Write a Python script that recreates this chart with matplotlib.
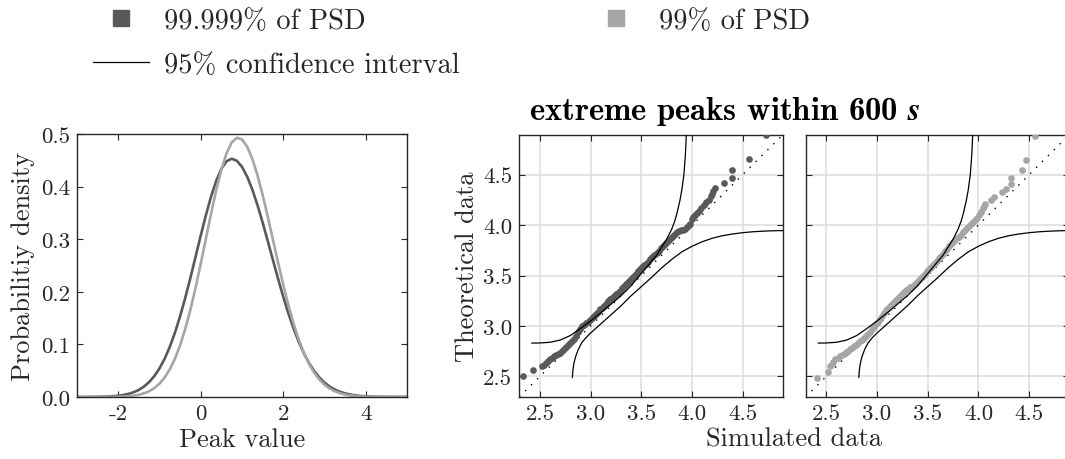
import matplotlib
matplotlib.use("Agg")
import matplotlib.pyplot as plt
from matplotlib.lines import Line2D
from matplotlib.ticker import FormatStrFormatter

plt.rcParams.update({
    "font.family": "cmr10",
    "mathtext.fontset": "cm",
    "axes.unicode_minus": False,
    "axes.formatter.use_mathtext": False,
})

# ---------------- data ----------------
pdf_x = [-3.0, -2.75, -2.5, -2.25, -2.125, -2.0, -1.875, -1.75, -1.625, -1.5, -1.375, -1.25,
         -1.125, -1.0, -0.875, -0.75, -0.625, -0.5, -0.375, -0.25, -0.125, 0.0, 0.125, 0.25,
         0.375, 0.5, 0.625, 0.75, 0.875, 1.0, 1.125, 1.25, 1.375, 1.5, 1.625, 1.75, 1.875,
         2.0, 2.125, 2.25, 2.375, 2.5, 2.625, 2.75, 2.875, 3.0, 3.125, 3.25, 3.375, 3.5,
         3.625, 3.75, 3.875, 4.0, 4.25, 4.5, 4.75, 5.0]
pdf_dark = [0.0000, 0.0001, 0.0003, 0.0009, 0.0015, 0.0024, 0.0039, 0.0060, 0.0091, 0.0136,
            0.0199, 0.0285, 0.0398, 0.0544, 0.0728, 0.0954, 0.1224, 0.1537, 0.1886, 0.2268,
            0.2668, 0.3070, 0.3457, 0.3810, 0.4110, 0.4338, 0.4481, 0.4530, 0.4491, 0.4376,
            0.4190, 0.3944, 0.3649, 0.3317, 0.2964, 0.2603, 0.2247, 0.1906, 0.1589, 0.1302,
            0.1049, 0.0830, 0.0646, 0.0494, 0.0371, 0.0274, 0.0199, 0.0142, 0.0100, 0.0069,
            0.0047, 0.0031, 0.0020, 0.0013, 0.0005, 0.0002, 0.0001, 0.0000]
pdf_light = [0.0000, 0.0000, 0.0000, 0.0001, 0.0002, 0.0005, 0.0009, 0.0015, 0.0026, 0.0043,
             0.0070, 0.0110, 0.0170, 0.0254, 0.0370, 0.0526, 0.0729, 0.0985, 0.1296, 0.1662,
             0.2078, 0.2534, 0.3009, 0.3485, 0.3931, 0.4323, 0.4633, 0.4840, 0.4928, 0.4896,
             0.4760, 0.4529, 0.4218, 0.3843, 0.3427, 0.2990, 0.2554, 0.2134, 0.1745, 0.1397,
             0.1094, 0.0839, 0.0629, 0.0462, 0.0332, 0.0233, 0.0160, 0.0108, 0.0071, 0.0046,
             0.0029, 0.0018, 0.0011, 0.0006, 0.0002, 0.0001, 0.0000, 0.0000]

sim_dark = [2.33, 2.43, 2.52, 2.54, 2.56, 2.58, 2.60, 2.62, 2.64, 2.66, 2.68, 2.70, 2.72, 2.74,
            2.76, 2.78, 2.80, 2.82, 2.84, 2.86, 2.88, 2.895, 2.91, 2.93, 2.95, 2.97, 2.99, 3.01,
            3.03, 3.05, 3.07, 3.09, 3.11, 3.13, 3.15, 3.17, 3.19, 3.21, 3.23, 3.25, 3.27, 3.29,
            3.31, 3.33, 3.35, 3.37, 3.39, 3.41, 3.43, 3.45, 3.47, 3.49, 3.51, 3.53, 3.55, 3.57,
            3.59, 3.61, 3.63, 3.65, 3.67, 3.69, 3.71, 3.73, 3.75, 3.77, 3.79, 3.81, 3.83, 3.85,
            3.87, 3.89, 3.91, 3.93, 3.95, 3.97, 3.985, 4.00, 4.01, 4.03, 4.05, 4.07, 4.09, 4.12,
            4.14, 4.17, 4.19, 4.20, 4.21, 4.23, 4.32, 4.39, 4.39, 4.56, 4.73]
theo_dark = [2.50, 2.565, 2.60, 2.615, 2.635, 2.655, 2.67, 2.685, 2.70, 2.71, 2.72, 2.735, 2.75,
             2.77, 2.79, 2.81, 2.83, 2.85, 2.87, 2.90, 2.94, 2.97, 3.00, 3.01, 3.025, 3.04, 3.06,
             3.08, 3.10, 3.12, 3.14, 3.165, 3.18, 3.20, 3.22, 3.245, 3.265, 3.28, 3.30, 3.315,
             3.33, 3.35, 3.375, 3.395, 3.42, 3.44, 3.46, 3.48, 3.50, 3.52, 3.54, 3.56, 3.58, 3.60,
             3.615, 3.635, 3.66, 3.68, 3.70, 3.72, 3.745, 3.77, 3.79, 3.81, 3.83, 3.85, 3.87,
             3.89, 3.91, 3.93, 3.94, 3.95, 3.955, 3.965, 3.98, 4.00, 4.01, 4.06, 4.08, 4.10, 4.12,
             4.145, 4.17, 4.20, 4.23, 4.25, 4.285, 4.31, 4.335, 4.37, 4.415, 4.47, 4.545, 4.66,
             4.89]

sim_light = [2.41, 2.52, 2.535, 2.553, 2.57, 2.59, 2.61, 2.63, 2.65, 2.67, 2.69, 2.71, 2.73,
             2.75, 2.77, 2.79, 2.81, 2.83, 2.85, 2.87, 2.89, 2.91, 2.93, 2.95, 2.97, 2.99, 3.01,
             3.03, 3.05, 3.07, 3.09, 3.11, 3.13, 3.15, 3.17, 3.19, 3.21, 3.23, 3.25, 3.27, 3.29,
             3.31, 3.33, 3.35, 3.37, 3.39, 3.41, 3.43, 3.45, 3.47, 3.49, 3.51, 3.53, 3.55, 3.57,
             3.59, 3.61, 3.63, 3.65, 3.67, 3.69, 3.71, 3.73, 3.75, 3.77, 3.79, 3.81, 3.83, 3.85,
             3.87, 3.89, 3.91, 3.93, 3.95, 3.97, 3.99, 4.01, 4.03, 4.045, 4.055, 4.065, 4.127,
             4.153, 4.236, 4.276, 4.32, 4.325, 4.434, 4.47, 4.556]
theo_light = [2.483, 2.547, 2.60, 2.62, 2.645, 2.67, 2.685, 2.70, 2.715, 2.725, 2.74, 2.755,
              2.77, 2.785, 2.80, 2.815, 2.83, 2.85, 2.865, 2.88, 2.90, 2.92, 2.94, 2.965, 2.99,
              3.015, 3.04, 3.07, 3.10, 3.13, 3.16, 3.18, 3.20, 3.22, 3.24, 3.26, 3.28, 3.30, 3.32,
              3.34, 3.355, 3.37, 3.385, 3.40, 3.42, 3.44, 3.46, 3.48, 3.50, 3.52, 3.54, 3.56,
              3.58, 3.60, 3.625, 3.645, 3.67, 3.69, 3.715, 3.74, 3.765, 3.79, 3.815, 3.835, 3.855,
              3.87, 3.88, 3.90, 3.93, 3.95, 3.97, 3.99, 4.015, 4.035, 4.055, 4.075, 4.10, 4.13,
              4.165, 4.19, 4.21, 4.245, 4.28, 4.33, 4.36, 4.41, 4.467, 4.543, 4.65, 4.88]

ci_up_x = [2.42, 2.5, 2.6, 2.7, 2.8, 2.9, 3.0, 3.1, 3.2, 3.3, 3.4, 3.5, 3.6, 3.65, 3.7, 3.75,
           3.8, 3.83, 3.85, 3.88, 3.9, 3.92, 3.935, 3.942, 3.945]
ci_up_y = [2.83, 2.831, 2.838, 2.86, 2.905, 2.975, 3.05, 3.13, 3.215, 3.30, 3.40, 3.52, 3.64,
           3.70, 3.78, 3.86, 3.96, 4.04, 4.11, 4.24, 4.35, 4.50, 4.70, 4.85, 4.95]
ci_lo_x = [2.82, 2.825, 2.835, 2.85, 2.875, 2.91, 2.95, 3.0, 3.1, 3.2, 3.3, 3.4, 3.5, 3.6, 3.7,
           3.8, 3.9, 4.0, 4.1, 4.2, 4.3, 4.4, 4.5, 4.6, 4.7, 4.8, 4.9]
ci_lo_y = [2.49, 2.56, 2.63, 2.69, 2.76, 2.83, 2.88, 2.93, 3.02, 3.11, 3.20, 3.30, 3.39, 3.48,
           3.575, 3.66, 3.735, 3.79, 3.835, 3.87, 3.895, 3.912, 3.925, 3.934, 3.94, 3.944, 3.946]

pdf_xticks = [-2, 0, 2, 4]
pdf_yticks = [0.0, 0.1, 0.2, 0.3, 0.4, 0.5]
qq_ticks = [2.5, 3.0, 3.5, 4.0, 4.5]

DARK = "#595959"
LIGHT = "#a6a6a6"
TXT = "#262626"

# ---------------- figure ----------------
W, H = 1065, 460
fig = plt.figure(figsize=(W / 100, H / 100), dpi=100)


def rect(x0, y0, x1, y1):
    return [x0 / W, 1 - y1 / H, (x1 - x0) / W, (y1 - y0) / H]


ax1 = fig.add_axes(rect(77, 135, 407, 398))
ax2 = fig.add_axes(rect(519.3, 135.7, 783, 398))
ax3 = fig.add_axes(rect(805.7, 135.7, 1069.4, 398))


def style(ax):
    ax.tick_params(direction="in", length=4, width=0.8, top=True, right=True,
                   labelsize=16.5, color=TXT, labelcolor=TXT, pad=5)
    for s in ax.spines.values():
        s.set_color(TXT)
        s.set_linewidth(1.0)


# PDF panel
ax1.plot(pdf_x, pdf_dark, color=DARK, lw=1.9)
ax1.plot(pdf_x, pdf_light, color=LIGHT, lw=1.9)
ax1.set_xlim(-3, 5)
ax1.set_ylim(0, 0.5)
ax1.set_xticks(pdf_xticks)
ax1.set_yticks(pdf_yticks)
ax1.yaxis.set_major_formatter(FormatStrFormatter("%.1f"))
style(ax1)
ax1.set_xlabel("Peak value", fontsize=19, color=TXT, labelpad=3)
ax1.set_ylabel("Probabilitiy density", fontsize=19, color=TXT, labelpad=4)

# QQ panels
for ax, sim, theo, col in [(ax2, sim_dark, theo_dark, DARK), (ax3, sim_light, theo_light, LIGHT)]:
    ax.set_axisbelow(True)
    ax.grid(True, color="#dcdcdc", lw=1.1)
    ax.axline((2.5, 2.5), slope=1, color="k", lw=1.0, ls=(0, (1, 5)), zorder=2)
    ax.plot(sim, theo, "o", ms=4.8, color=col, mec="none", zorder=3)
    ax.plot(ci_up_x, ci_up_y, color="k", lw=0.9, zorder=4)
    ax.plot(ci_lo_x, ci_lo_y, color="k", lw=0.9, zorder=4)
    ax.set_xlim(2.296, 4.898)
    ax.set_ylim(2.295, 4.897)
    ax.set_xticks(qq_ticks)
    ax.set_yticks(qq_ticks)
    ax.xaxis.set_major_formatter(FormatStrFormatter("%.1f"))
    ax.yaxis.set_major_formatter(FormatStrFormatter("%.1f"))
    style(ax)

ax3.tick_params(labelleft=False)
ax2.set_ylabel("Theoretical data", fontsize=19, color=TXT, labelpad=3)

fig.text(794 / W, 1 - 440 / H, "Simulated data", fontsize=19, color=TXT,
         ha="center", va="center")
fig.text(725 / W, 1 - 112 / H, r"extreme peaks within 600 $\boldsymbol{s}$",
         fontsize=23.5, family="cmb10", color="k", ha="center", va="center")

# legend
handles = [
    Line2D([], [], marker="s", ls="", color=DARK, markersize=11),
    Line2D([], [], color="k", lw=0.9),
    Line2D([], [], marker="s", ls="", color=LIGHT, markersize=11),
]
labels = ["99.999% of PSD", "95% confidence interval", "99% of PSD"]
fig.legend(handles, labels, ncol=2, loc="upper left", bbox_to_anchor=(93 / W, 1 - 9 / H),
           frameon=False, fontsize=20.5, handlelength=1.97, handletextpad=0.53,
           columnspacing=4.5, labelspacing=0.6, borderpad=0, borderaxespad=0,
           labelcolor=TXT)

fig.savefig("out.png", dpi=100)
